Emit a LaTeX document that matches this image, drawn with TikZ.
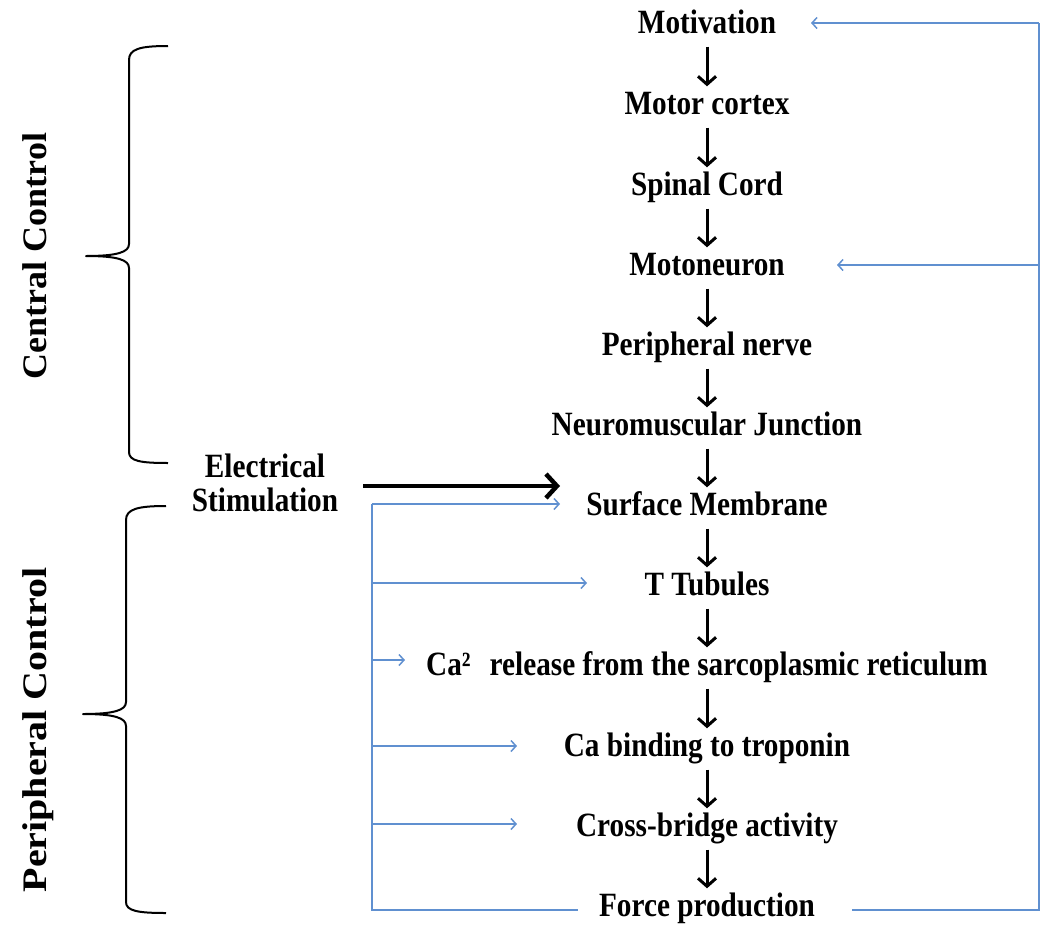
\documentclass[tikz,border=0pt]{standalone}
\usepackage{fontspec}
\setmainfont{Liberation Serif}
\usetikzlibrary{arrows.meta}
\definecolor{fb}{RGB}{96,144,208}
\tikzset{
  lbl/.style={font=\fontsize{34}{38}\selectfont\bfseries, xscale=0.86, inner sep=0pt, text height=24pt, text depth=7pt, anchor=center},
  side/.style={font=\fontsize{40}{44}\selectfont\bfseries, xscale=0.86, rotate=90, inner sep=0pt, anchor=center},
  down/.style={line width=3pt, -{Straight Barb[length=8pt,width=18pt,line width=3pt]}, shorten <=6pt, shorten >=4pt},
  fbline/.style={draw=fb, line width=1.6pt},
  fbarr/.style={fbline, -{Straight Barb[length=5pt,width=11pt,line width=1.5pt]}},
  brace/.style={line width=2pt, line join=round},
}
\begin{document}
\begin{tikzpicture}[x=1pt,y=-1pt]
\useasboundingbox (0,0) rectangle (1041,926);
% main chain
\node[lbl] (mot) at (707,25) {Motivation};
\node[lbl] (cor) at (707,106) {Motor cortex};
\node[lbl] (spi) at (707,187) {Spinal Cord};
\node[lbl] (mtn) at (707,267) {Motoneuron};
\node[lbl] (pnv) at (707,347) {Peripheral nerve};
\node[lbl] (nmj) at (707,427) {Neuromuscular Junction};
\node[lbl] (sur) at (707,507) {Surface Membrane};
\node[lbl] (ttb) at (707,587) {T Tubules};
\node[lbl] (car) at (707,667) {Ca²\hspace{0.4em} release from the sarcoplasmic reticulum};
\node[lbl] (trp) at (707,748) {Ca binding to troponin};
\node[lbl] (xbr) at (707,828) {Cross-bridge activity};
\node[lbl] (frc) at (707,908) {Force production};
\foreach \a/\b in {mot/cor,cor/spi,spi/mtn,mtn/pnv,pnv/nmj,nmj/sur,sur/ttb,ttb/car,car/trp,trp/xbr,xbr/frc}
  \draw[down] (\a.south) -- (\b.north);
% electrical stimulation
\node[lbl, align=center, text height=, text depth=] (ele) at (265,483) {Electrical\\[-4pt]Stimulation};
\coordinate (eleTip) at (560,486);
\draw[line width=4.5pt, -{Straight Barb[length=11pt,width=24pt,line width=4.5pt]}] (ele.east|-eleTip) ++(25,0) -- (eleTip);
% side labels
\node[side, xscale=0.9] (cc) at (35,256) {Central Control};
\node[side] (pc) at (38,730) {Peripheral Control};
% braces
\draw[brace] (168,46) .. controls (140,46) and (129,49) .. (129,60) -- (129,244) .. controls (129,252) and (118,256) .. (86,256) .. controls (118,256) and (129,260) .. (129,268) -- (129,452) .. controls (129,461) and (140,463) .. (168,463);
\draw[brace] (166,506) .. controls (138,506) and (126,509) .. (126,520) -- (126,702) .. controls (126,710) and (115,714) .. (83,714) .. controls (115,714) and (126,718) .. (126,726) -- (126,902) .. controls (126,911) and (138,913) .. (166,913);
% feedback lines left
\coordinate (L0) at (372,504);
\coordinate (L5) at (372,910);
\coordinate (Lend) at (578,910);
\coordinate (tSur) at (560,504);
\coordinate (tTtb) at (587,583);
\coordinate (tCar) at (405,660);
\coordinate (tTrp) at (517,746);
\coordinate (tXbr) at (517,824);
\draw[fbline] (L0) -- (L5) -- (Lend);
\draw[fbarr] (L0) -- (tSur);
\draw[fbarr] (L0|-tTtb) -- (tTtb);
\draw[fbarr] (L0|-tCar) -- (tCar);
\draw[fbarr] (L0|-tTrp) -- (tTrp);
\draw[fbarr] (L0|-tXbr) -- (tXbr);
% feedback lines right
\coordinate (R0) at (1039,910);
\coordinate (Rs) at (852,910);
\coordinate (R1) at (1039,23);
\coordinate (tMot) at (811,23);
\coordinate (tMtn) at (837,265);
\draw[fbline] (Rs) -- (R0) -- (R1);
\draw[fbarr] (R1) -- (tMot);
\draw[fbarr] (R1|-tMtn) -- (tMtn);
\end{tikzpicture}
\end{document}
